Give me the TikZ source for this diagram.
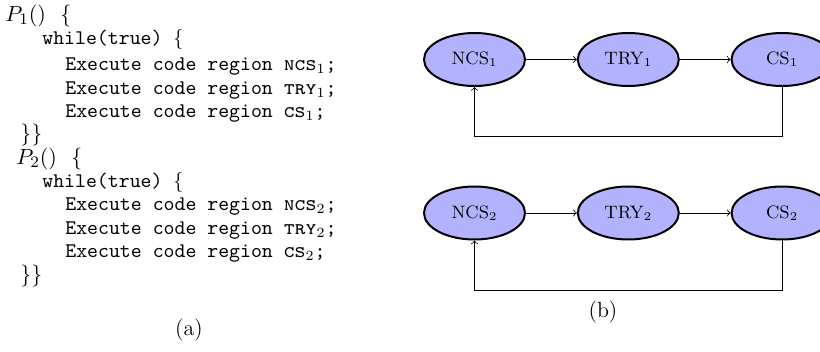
\documentclass[tikz,border=0pt]{standalone}
\usepackage{amsmath}
\usetikzlibrary{arrows}
\usetikzlibrary{shapes.geometric}
\usetikzlibrary{positioning}

\tikzset{
  state/.style={ellipse, draw, line width=1pt, fill=blue!30, minimum width=50.5pt,
    minimum height=26.5pt, inner sep=0pt, font=\small},
  codeline/.style={anchor=west, inner sep=0pt,
    font=\fontsize{10.4}{12}\selectfont\ttfamily},
  mathline/.style={anchor=west, inner sep=0pt,
    font=\fontsize{11}{13}\selectfont},
  caption/.style={inner sep=0pt, font=\fontsize{11}{13}\selectfont},
}

\begin{document}
\begin{tikzpicture}[x=0.5pt, y=-0.5pt, node distance=25.4pt]
    \useasboundingbox (0,0) rectangle (820,352);
    % (a) the two processes
    \node[mathline] (p1) at (5,16) {$P_1()\ \ \{$};
    \node[codeline] (w1) at (42,40) {while(true) $\{$};
    \foreach \reg [count=\i] in {ncs,try,cs}
      \node[codeline] (ex1\i) at (65,{67+23.5*(\i-1)}) {Execute code region \textsc{\reg}$_1$;};
    \node[mathline] (end1) at (20,135) {$\}\}$};

    \node[mathline] (p2) at (16,159) {$P_2()\ \ \{$};
    \node[codeline] (w2) at (42,183) {while(true) $\{$};
    \foreach \reg [count=\i] in {ncs,try,cs}
      \node[codeline] (ex2\i) at (65,{207+23.5*(\i-1)}) {Execute code region \textsc{\reg}$_2$;};
    \node[mathline] (end2) at (20,276) {$\}\}$};

    \node[caption] (capa) at (189,330) {(a)};

    % (b) the state cycles
    \node[state] (ncs1) at (474.5,59.5) {NCS$_1$};
    \node[state, right=of ncs1] (try1) {TRY$_1$};
    \node[state, right=of try1] (cs1) {CS$_1$};
    \draw[->] (ncs1) -- (try1);
    \draw[->] (try1) -- (cs1);
    \draw[->] (cs1.south) -- ++(0,49) -| (ncs1.south);

    \node[state, below=49.25pt of ncs1] (ncs2) {NCS$_2$};
    \node[state, right=of ncs2] (try2) {TRY$_2$};
    \node[state, right=of try2] (cs2) {CS$_2$};
    \draw[->] (ncs2) -- (try2);
    \draw[->] (try2) -- (cs2);
    \draw[->] (cs2.south) -- ++(0,50) -| (ncs2.south);

    \node[caption] (capb) at (603,312) {(b)};
\end{tikzpicture}
\end{document}
